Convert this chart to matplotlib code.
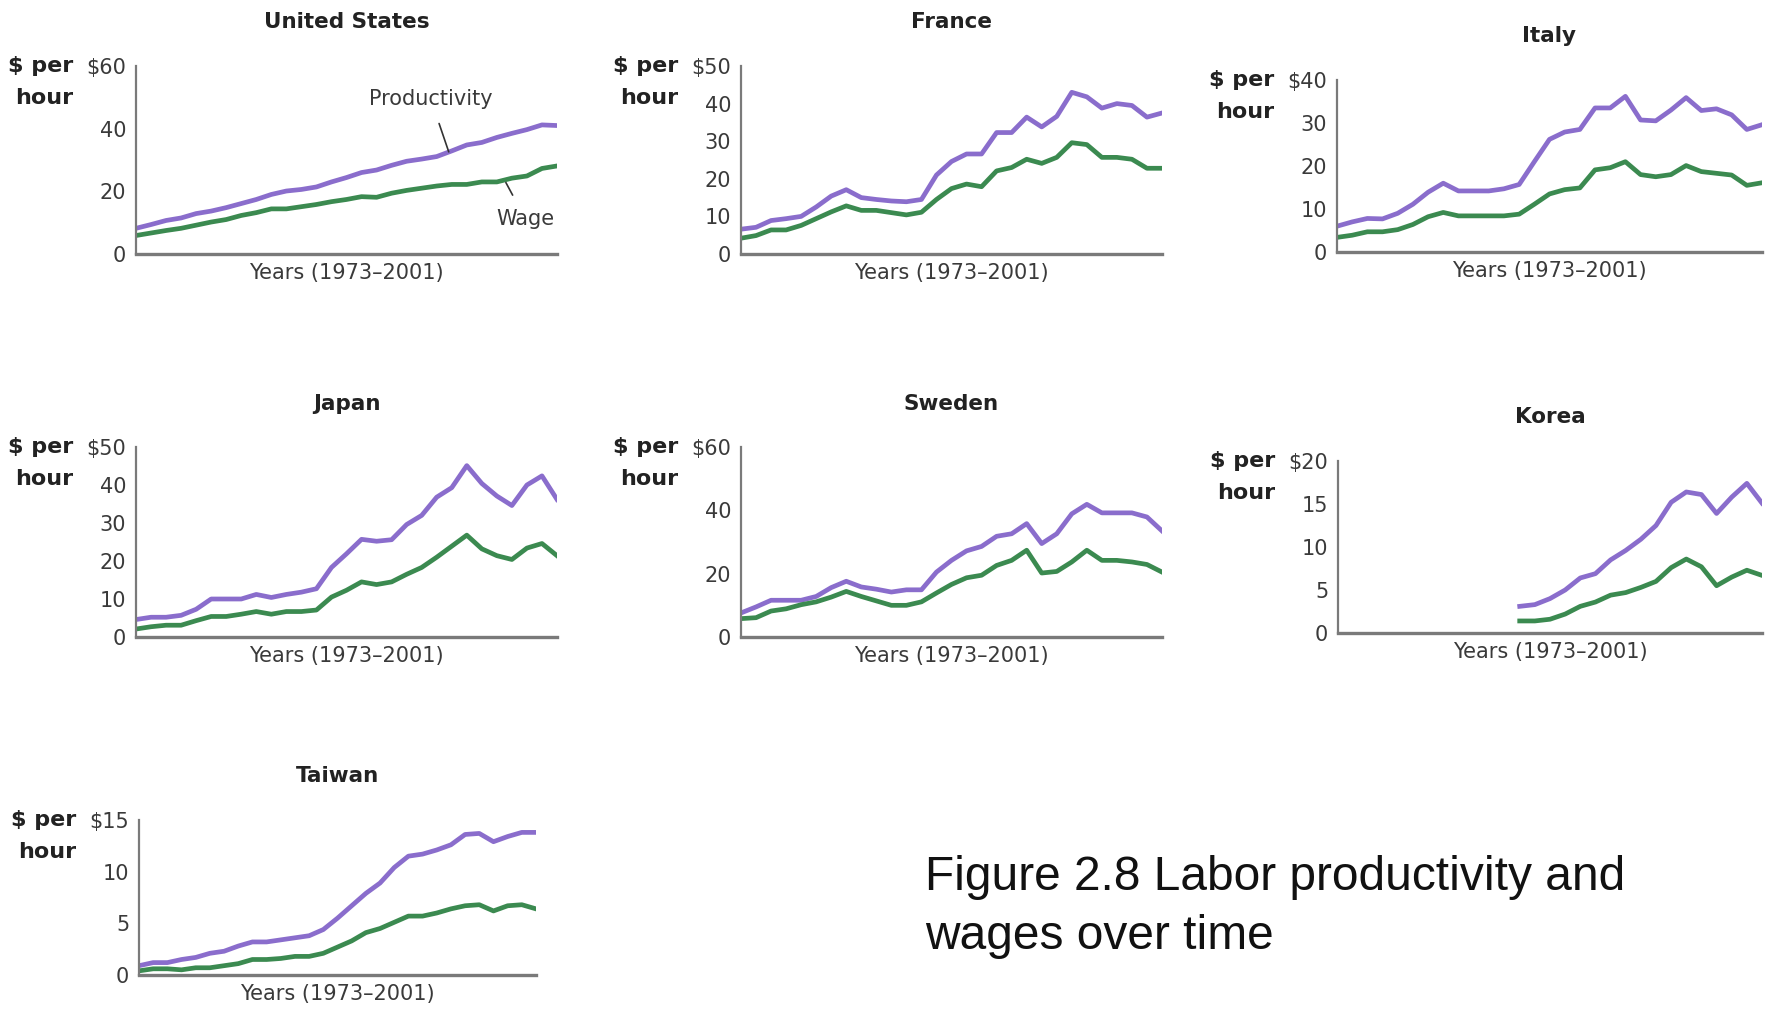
import numpy as np
import matplotlib.pyplot as plt

plt.rcParams['font.family'] = ['Liberation Sans Narrow', 'DejaVu Sans']

years = np.arange(1973, 2002)
korea_years = np.arange(1985, 2002)

us_prod = [8.2, 9.4, 10.7, 11.5, 12.9, 13.7, 14.8, 16.1, 17.4, 19.0, 20.1, 20.6, 21.4, 23.0,
           24.4, 26.0, 26.8, 28.3, 29.6, 30.3, 31.1, 32.9, 34.8, 35.6, 37.2, 38.5, 39.7, 41.2, 41.0]
us_wage = [5.9, 6.7, 7.5, 8.2, 9.2, 10.2, 11.0, 12.3, 13.2, 14.4, 14.4, 15.1, 15.8, 16.7,
           17.4, 18.3, 18.1, 19.4, 20.3, 21.0, 21.7, 22.2, 22.2, 23.0, 23.0, 24.2, 24.9, 27.3, 28.1]

fr_prod = [6.6, 7.1, 8.9, 9.4, 10.0, 12.5, 15.4, 17.1, 15.0, 14.5, 14.1, 13.9, 14.5, 21.0,
           24.6, 26.6, 26.6, 32.3, 32.3, 36.4, 33.8, 36.6, 43.0, 41.8, 38.8, 40.0, 39.5, 36.4, 37.5]
fr_wage = [4.2, 4.9, 6.4, 6.4, 7.6, 9.4, 11.2, 12.8, 11.6, 11.6, 11.0, 10.4, 11.1, 14.5,
           17.4, 18.6, 17.9, 22.1, 23.0, 25.2, 24.1, 25.7, 29.6, 29.1, 25.7, 25.7, 25.2, 22.8, 22.8]

it_prod = [6.0, 7.0, 7.8, 7.7, 9.0, 11.1, 13.9, 16.0, 14.2, 14.2, 14.2, 14.7, 15.7, 21.0,
           26.2, 27.9, 28.5, 33.5, 33.5, 36.2, 30.7, 30.5, 33.0, 35.9, 32.9, 33.3, 31.9, 28.5, 29.6]
it_wage = [3.4, 3.9, 4.7, 4.7, 5.2, 6.4, 8.2, 9.2, 8.4, 8.4, 8.4, 8.4, 8.8, 11.1,
           13.5, 14.5, 14.9, 19.1, 19.6, 21.0, 18.0, 17.5, 18.0, 20.1, 18.7, 18.3, 17.9, 15.5, 16.1]

jp_prod = [4.6, 5.2, 5.2, 5.7, 7.3, 10.0, 10.0, 10.0, 11.2, 10.4, 11.2, 11.8, 12.7, 18.3,
           21.9, 25.7, 25.2, 25.6, 29.6, 32.0, 36.8, 39.3, 45.1, 40.4, 37.1, 34.6, 40.0, 42.4, 36.2]
jp_wage = [2.1, 2.7, 3.1, 3.1, 4.3, 5.4, 5.4, 6.0, 6.7, 6.0, 6.7, 6.7, 7.1, 10.5,
           12.3, 14.5, 13.8, 14.5, 16.5, 18.3, 21.0, 23.9, 26.8, 23.2, 21.4, 20.4, 23.4, 24.6, 21.4]

se_prod = [7.6, 9.5, 11.6, 11.6, 11.6, 12.8, 15.6, 17.6, 15.8, 15.1, 14.2, 14.9, 14.9, 20.5,
           24.2, 27.2, 28.6, 31.8, 32.6, 35.8, 29.5, 32.6, 38.9, 41.9, 39.2, 39.2, 39.2, 37.9, 33.5]
se_wage = [5.8, 6.1, 8.2, 8.9, 10.2, 11.1, 12.6, 14.4, 12.8, 11.4, 10.0, 10.0, 11.1, 13.9,
           16.6, 18.7, 19.5, 22.6, 24.2, 27.4, 20.2, 20.7, 23.7, 27.4, 24.2, 24.2, 23.7, 22.9, 20.5]

kr_prod = [3.1, 3.3, 4.0, 5.0, 6.4, 6.9, 8.5, 9.6, 10.9, 12.5, 15.2, 16.4, 16.1, 13.9, 15.8, 17.4, 15.1]
kr_wage = [1.4, 1.4, 1.6, 2.2, 3.1, 3.6, 4.4, 4.7, 5.3, 6.0, 7.6, 8.6, 7.7, 5.5, 6.5, 7.3, 6.7]

tw_prod = [0.9, 1.2, 1.2, 1.5, 1.7, 2.1, 2.3, 2.8, 3.2, 3.2, 3.4, 3.6, 3.8, 4.4,
           5.5, 6.7, 7.9, 8.9, 10.4, 11.5, 11.7, 12.1, 12.6, 13.6, 13.7, 12.9, 13.4, 13.8, 13.8]
tw_wage = [0.4, 0.6, 0.6, 0.5, 0.7, 0.7, 0.9, 1.1, 1.5, 1.5, 1.6, 1.8, 1.8, 2.1,
           2.7, 3.3, 4.1, 4.5, 5.1, 5.7, 5.7, 6.0, 6.4, 6.7, 6.8, 6.2, 6.7, 6.8, 6.4]

PURPLE = '#8a6dcc'
GREEN = '#3b8a50'
AXIS = '#7a7a7a'
W, H = 1773, 1009

fig = plt.figure(figsize=(W / 100, H / 100), dpi=100)
fig.patch.set_facecolor('white')


def panel(box, name, x, prod, wage, ymax, step):
    left, top, right, bottom = box
    ax = fig.add_axes([left / W, 1 - bottom / H, (right - left) / W, (bottom - top) / H])
    ax.plot(x, prod, color=PURPLE, lw=3.4, solid_joinstyle='round')
    ax.plot(x, wage, color=GREEN, lw=3.4, solid_joinstyle='round')
    ax.set_xlim(1973, 2001)
    ax.set_ylim(0, ymax)
    ticks = np.arange(0, ymax + 1, step)
    ax.set_yticks(ticks)
    ax.set_yticklabels([f'{t:g}' for t in ticks[:-1]] + [f'${ymax:g}'])
    ax.set_yticks([ymax], minor=True)
    ax.set_xticks([])
    ax.tick_params(axis='y', which='major', length=0, pad=7, labelsize=15, labelcolor='#3a3a3a')
    ax.tick_params(axis='y', which='minor', direction='in', length=5, width=1.5, color=AXIS)
    for s in ('top', 'right'):
        ax.spines[s].set_visible(False)
    ax.spines['left'].set_color(AXIS)
    ax.spines['left'].set_linewidth(1.6)
    ax.spines['bottom'].set_color(AXIS)
    ax.spines['bottom'].set_linewidth(2.4)
    ax.set_title(name, fontsize=15.5, fontweight='bold', pad=27, color='#222222')
    ax.annotate('Years (1973\u20132001)', xy=(0.5, 0), xycoords='axes fraction',
                xytext=(0, -14), textcoords='offset points', ha='center', va='center',
                fontsize=15, color='#3a3a3a')
    ax.annotate('$ per', xy=(0, 1), xycoords='axes fraction', xytext=(-45, 0),
                textcoords='offset points', ha='right', va='center',
                fontsize=16, fontweight='bold', color='#222222')
    ax.annotate('hour', xy=(0, 1), xycoords='axes fraction', xytext=(-45, -22.8),
                textcoords='offset points', ha='right', va='center',
                fontsize=16, fontweight='bold', color='#222222')
    return ax


ax_us = panel((136, 66, 557, 254), 'United States', years, us_prod, us_wage, 60, 20)
panel((741, 66, 1162, 254), 'France', years, fr_prod, fr_wage, 50, 10)
panel((1337, 80, 1762, 252), 'Italy', years, it_prod, it_wage, 40, 10)
panel((136, 447, 557, 637), 'Japan', years, jp_prod, jp_wage, 50, 10)
panel((741, 447, 1162, 637), 'Sweden', years, se_prod, se_wage, 60, 20)
panel((1338, 461, 1762, 633), 'Korea', korea_years, kr_prod, kr_wage, 20, 5)
panel((139, 820, 536, 975), 'Taiwan', years, tw_prod, tw_wage, 15, 5)

# series labels with leader lines on the US panel
ax_us.annotate('Productivity', xy=(1993.8, 32.6), xytext=(1992.6, 49.5),
               ha='center', va='center', fontsize=15, color='#3a3a3a',
               arrowprops=dict(arrowstyle='-', color='#333333', lw=1.2,
                               shrinkA=9, shrinkB=0))
ax_us.annotate('Wage', xy=(1997.6, 22.8), xytext=(1998.9, 11.2),
               ha='center', va='center', fontsize=15, color='#3a3a3a',
               arrowprops=dict(arrowstyle='-', color='#333333', lw=1.2,
                               shrinkA=9, shrinkB=0))

fig.text(925 / W, 1 - 907 / H, 'Figure 2.8 Labor productivity and\nwages over time',
         ha='left', va='center', fontsize=34.5, family=['Liberation Sans', 'DejaVu Sans'],
         color='#111111', linespacing=1.38)

fig.savefig('out.png', dpi=100)
